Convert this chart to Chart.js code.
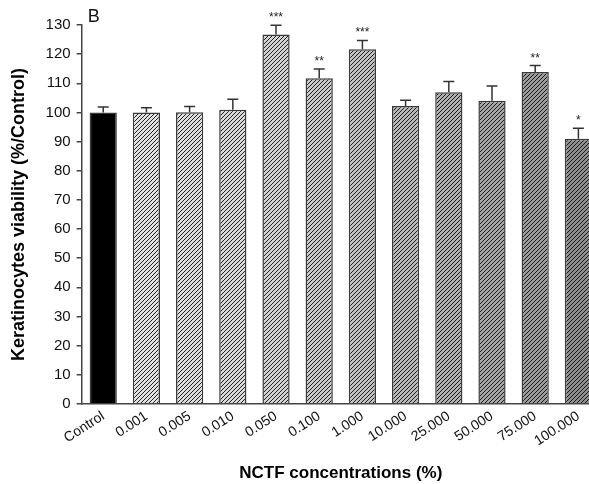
<!DOCTYPE html>
<html>
<head>
<meta charset="utf-8">
<script src="https://cdn.jsdelivr.net/npm/chart.js@4/dist/chart.umd.min.js"></script>
<style>
  html, body { margin: 0; padding: 0; overflow: hidden; background: #fff; }
  #wrap { width: 603px; height: 484px; }
</style>
</head>
<body>
<div id="wrap"><canvas id="barChart"></canvas></div>
<script>
// data
var concentraciones = ['Control', '0.001', '0.005', '0.010', '0.050', '0.100', '1.000', '10.000', '25.000', '50.000', '75.000', '100.000'];
var viabilidad = [100.0, 100.0, 100.1, 100.9, 126.7, 111.7, 121.7, 102.2, 106.9, 104.0, 113.9, 91.0];
var errores = [1.9, 1.6, 1.9, 3.6, 3.2, 3.2, 3.0, 2.0, 3.7, 5.1, 2.2, 3.6];
var significancia = ['', '', '', '', '***', '**', '***', '', '', '', '**', '*'];
var yTicks = [0, 10, 20, 30, 40, 50, 60, 70, 80, 90, 100, 110, 120, 130];

// grey behind the hatching gets darker with concentration
var grises = ['#000000', '#e2e2e2', '#dedede', '#dadada', '#d4d4d4', '#cacaca', '#c2c2c2', '#b8b8b8', '#b0b0b0', '#a6a6a6', '#9c9c9c', '#8e8e8e'];

function rayado(fondo) {
  var c = document.createElement('canvas');
  c.width = 4; c.height = 4;
  var g = c.getContext('2d');
  g.fillStyle = fondo;
  g.fillRect(0, 0, 4, 4);
  g.strokeStyle = '#151515';
  g.lineWidth = 0.95;
  g.beginPath();
  g.moveTo(-1, 5); g.lineTo(5, -1);
  g.moveTo(-3, 3); g.lineTo(3, -3);
  g.moveTo(1, 7); g.lineTo(7, 1);
  g.stroke();
  return g.createPattern(c, 'repeat');
}

var rellenos = grises.map(function (col, i) {
  return i === 0 ? col : rayado(col);
});

var barrasError = {
  id: 'barrasError',
  afterDatasetsDraw: function (chart) {
    var ctx = chart.ctx;
    var y = chart.scales.y;
    var meta = chart.getDatasetMeta(0);
    ctx.save();
    ctx.strokeStyle = '#333';
    ctx.lineWidth = 1.5;
    meta.data.forEach(function (bar, i) {
      var top = y.getPixelForValue(viabilidad[i] + errores[i]);
      ctx.beginPath();
      ctx.moveTo(bar.x, bar.y);
      ctx.lineTo(bar.x, top);
      ctx.moveTo(bar.x - 5.5, top);
      ctx.lineTo(bar.x + 5.5, top);
      ctx.stroke();
      if (significancia[i]) {
        ctx.fillStyle = '#222';
        ctx.font = '12px "Liberation Sans", Arial, sans-serif';
        ctx.textAlign = 'center';
        ctx.textBaseline = 'alphabetic';
        ctx.fillText(significancia[i], bar.x, top - 4);
      }
    });
    // panel letter
    ctx.fillStyle = '#111';
    ctx.font = '18px "Liberation Sans", Arial, sans-serif';
    ctx.textAlign = 'left';
    ctx.fillText('B', chart.chartArea.left + 6, 22);
    ctx.restore();
  }
};

var ctx = document.getElementById('barChart').getContext('2d');
new Chart(ctx, {
  type: 'bar',
  data: {
    labels: concentraciones,
    datasets: [{
      data: viabilidad,
      backgroundColor: rellenos,
      borderColor: '#3a3a3a',
      borderWidth: 1.5,
      barPercentage: 0.63,
      categoryPercentage: 1.0
    }]
  },
  options: {
    responsive: true,
    maintainAspectRatio: false,
    animation: false,
    layout: { padding: { top: 25, right: 3, bottom: 0, left: 8 } },
    plugins: {
      legend: { display: false },
      tooltip: { enabled: false }
    },
    scales: {
      x: {
        offset: true,
        grid: { display: false, drawTicks: false },
        border: { display: true, color: '#444', width: 1.5 },
        ticks: {
          color: '#111',
          font: { family: '"Liberation Sans", Arial, sans-serif', size: 14 },
          maxRotation: 33,
          minRotation: 33,
          padding: 4,
          autoSkip: false
        },
        title: {
          display: true,
          text: 'NCTF concentrations (%)',
          color: '#000',
          font: { family: '"Liberation Sans", Arial, sans-serif', size: 17, weight: 'bold' },
          padding: { top: 10, bottom: 0 }
        }
      },
      y: {
        min: 0,
        max: 130,
        afterBuildTicks: function (axis) {
          axis.ticks = yTicks.map(function (v) { return { value: v }; });
        },
        grid: { display: true, drawOnChartArea: false, drawTicks: true, tickLength: 5, color: '#444', lineWidth: 1.5 },
        border: { display: true, color: '#444', width: 1.5 },
        ticks: {
          color: '#111',
          font: { family: '"Liberation Sans", Arial, sans-serif', size: 15 },
          padding: 6
        },
        title: {
          display: true,
          text: 'Keratinocytes viability (%/Control)',
          color: '#000',
          font: { family: '"Liberation Sans", Arial, sans-serif', size: 18, weight: 'bold' },
          padding: { top: 0, bottom: 10 }
        }
      }
    }
  },
  plugins: [barrasError]
});
</script>
</body>
</html>
